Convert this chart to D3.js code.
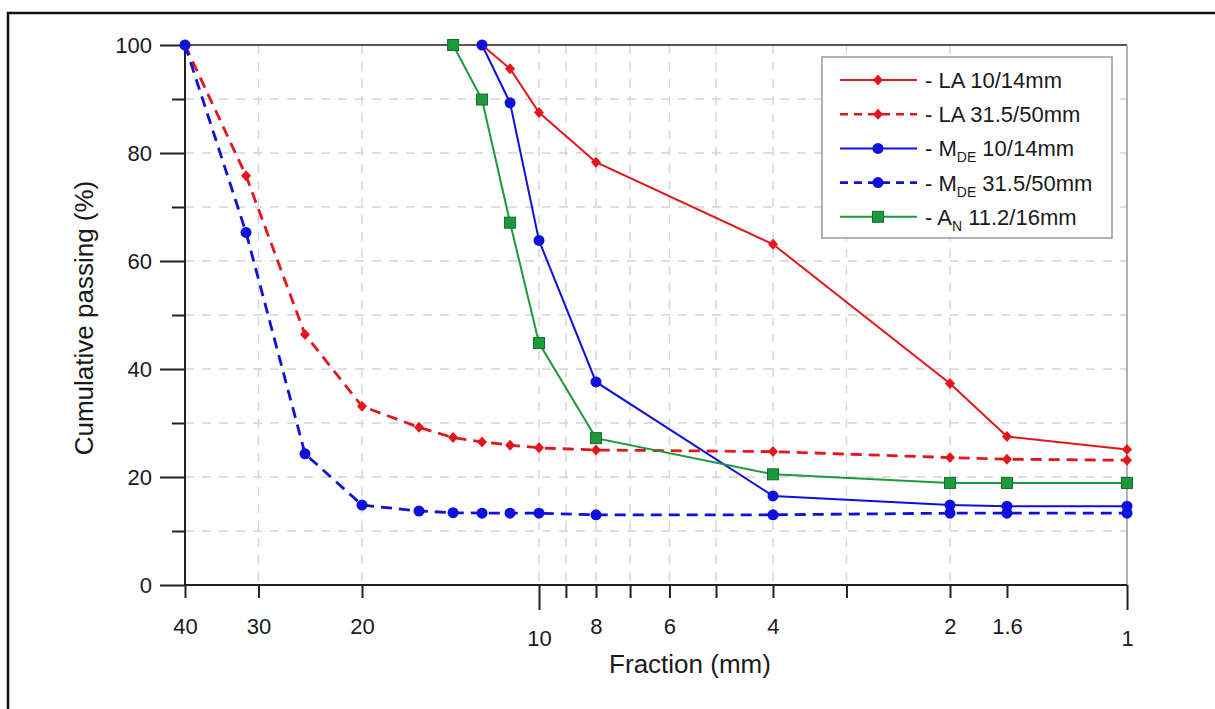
<!DOCTYPE html>
<html>
<head>
<meta charset="utf-8">
<script src="https://cdn.jsdelivr.net/npm/d3@7"></script>
<style>
  body { margin: 0; background: #fff; overflow: hidden; }
  text { font-family: "Liberation Sans", Arial, sans-serif; fill: #1a1a1a; }
</style>
</head>
<body>
<script>
var w = 1215;
var h = 709;

// sieve sizes (mm) and cumulative passing (%)
var coarseSizes = [40, 31.5, 25, 20, 16, 14, 12.5, 11.2, 10, 8, 4, 2, 1.6, 1];
var fineSizes = [12.5, 11.2, 10, 8, 4, 2, 1.6, 1];
var anSizes = [14, 12.5, 11.2, 10, 8, 4, 2, 1.6, 1];

var la1014 = [100, 95.6, 87.5, 78.3, 63.1, 37.3, 27.5, 25.1];
var la31550 = [100, 75.8, 46.4, 33.1, 29.2, 27.3, 26.5, 25.9, 25.4, 25.0, 24.7, 23.6, 23.3, 23.1];
var mde1014 = [100, 89.3, 63.8, 37.6, 16.5, 14.8, 14.6, 14.6];
var mde31550 = [100, 65.3, 24.3, 14.8, 13.7, 13.4, 13.3, 13.3, 13.3, 13.0, 13.0, 13.3, 13.3, 13.3];
var an11216 = [100, 89.9, 67.1, 44.8, 27.2, 20.5, 18.9, 18.9, 18.9];

var xTicksShort = [40, 30, 20, 9, 8, 7, 6, 5, 4, 3, 2, 1.6];
var xTicksLong = [10, 1];
var xLabels = [40, 30, 20, 10, 8, 6, 4, 2, 1.6, 1];
var xGrid = [30, 20, 10, 9, 8, 7, 6, 5, 4, 3, 2];
var yMajor = [0, 20, 40, 60, 80, 100];
var yMinor = [10, 30, 50, 70, 90];

var series = [
    { label: ["- LA", "", " 10/14mm"], sizes: fineSizes, values: la1014, color: "#e3161c", dash: null, shape: "diamond" },
    { label: ["- LA", "", " 31.5/50mm"], sizes: coarseSizes, values: la31550, color: "#e3161c", dash: "11,7", shape: "diamond" },
    { label: ["- M", "DE", " 10/14mm"], sizes: fineSizes, values: mde1014, color: "#1010dc", dash: null, shape: "circle" },
    { label: ["- M", "DE", " 31.5/50mm"], sizes: coarseSizes, values: mde31550, color: "#1010dc", dash: "11,7", shape: "circle" },
    { label: ["- A", "N", " 11.2/16mm"], sizes: anSizes, values: an11216, color: "#1c9a3c", dash: null, shape: "square" }
];

var svg = d3.select("body").append("svg").attr("width", w).attr("height", h)
    .style("display", "block");

// outer frame (only left and top edges fall inside the picture)
svg.append("path")
    .attr("d", "M8," + h + "V13H" + w)
    .attr("fill", "none").attr("stroke", "#111").attr("stroke-width", 2.5);

var x = d3.scaleLog().domain([40, 1]).range([185, 1127]);
var y = d3.scaleLinear().domain([0, 100]).range([585, 45]);

// grid
svg.append("g").selectAll("line")
    .data(xGrid).enter().append("line")
    .attr("x1", d => x(d)).attr("x2", d => x(d))
    .attr("y1", y(100)).attr("y2", y(0))
    .attr("stroke", "#d4d4d4").attr("stroke-width", 1.4).attr("stroke-dasharray", "9,8");

svg.append("g").selectAll("line")
    .data(yMinor.concat([20, 40, 60, 80])).enter().append("line")
    .attr("x1", x(40)).attr("x2", x(1))
    .attr("y1", d => y(d)).attr("y2", d => y(d))
    .attr("stroke", "#d4d4d4").attr("stroke-width", 1.4).attr("stroke-dasharray", "9,8");

// frame lines
svg.append("line").attr("x1", x(40)).attr("x2", x(1)).attr("y1", y(100)).attr("y2", y(100))
    .attr("stroke", "#555").attr("stroke-width", 2);
svg.append("line").attr("x1", x(1)).attr("x2", x(1)).attr("y1", y(100)).attr("y2", y(0))
    .attr("stroke", "#999").attr("stroke-width", 1.5);

// axes
var fmt = d => xLabels.indexOf(d) >= 0 ? String(d) : "";

svg.append("g").attr("transform", "translate(0," + y(0) + ")")
    .call(d3.axisBottom(x).tickValues(xTicksShort).tickSize(13).tickPadding(20).tickFormat(fmt))
    .call(g => g.select(".domain").remove());
svg.append("g").attr("transform", "translate(0," + y(0) + ")")
    .call(d3.axisBottom(x).tickValues(xTicksLong).tickSize(25).tickPadding(20).tickFormat(fmt))
    .call(g => g.select(".domain").remove());
svg.append("g").attr("transform", "translate(" + x(40) + ",0)")
    .call(d3.axisLeft(y).tickValues(yMajor).tickSize(25).tickPadding(8).tickFormat(d3.format("d")))
    .call(g => g.select(".domain").remove());
svg.append("g").attr("transform", "translate(" + x(40) + ",0)")
    .call(d3.axisLeft(y).tickValues(yMinor).tickSize(13).tickFormat(""))
    .call(g => g.select(".domain").remove());

svg.selectAll(".tick line").attr("stroke", "#222").attr("stroke-width", 2);
svg.selectAll(".tick text").attr("font-size", 22).attr("font-family", "Liberation Sans, Arial, sans-serif").attr("fill", "#1a1a1a");

svg.append("line").attr("x1", x(40)).attr("x2", x(1)).attr("y1", y(0)).attr("y2", y(0))
    .attr("stroke", "#222").attr("stroke-width", 2);
svg.append("line").attr("x1", x(40)).attr("x2", x(40)).attr("y1", y(100)).attr("y2", y(0))
    .attr("stroke", "#222").attr("stroke-width", 2);

// titles
svg.append("text").attr("x", 690).attr("y", 673)
    .attr("text-anchor", "middle").attr("font-size", 26)
    .text("Fraction (mm)");
svg.append("text").attr("transform", "translate(93,318) rotate(-90)")
    .attr("text-anchor", "middle").attr("font-size", 26)
    .text("Cumulative passing (%)");

// markers
function marker(g, shape, color, cx, cy) {
    if (shape === "circle") {
        g.append("circle").attr("cx", cx).attr("cy", cy).attr("r", 5.5).attr("fill", color);
    } else if (shape === "square") {
        g.append("rect").attr("x", cx - 5.5).attr("y", cy - 5.5).attr("width", 11).attr("height", 11)
            .attr("fill", color).attr("stroke", "#126e2a").attr("stroke-width", 1);
    } else {
        g.append("path").attr("transform", "translate(" + cx + "," + cy + ")")
            .attr("d", "M0,-5.5L5,0L0,5.5L-5,0Z").attr("fill", color);
    }
}

var line = d3.line().x(d => x(d[0])).y(d => y(d[1]));

series.forEach(function (s) {
    var pts = s.sizes.map((v, i) => [v, s.values[i]]);
    var g = svg.append("g");
    g.append("path")
        .attr("d", line(pts))
        .attr("fill", "none")
        .attr("stroke", s.color)
        .attr("stroke-width", s.dash ? 2.8 : 2)
        .attr("stroke-dasharray", s.dash);
    pts.forEach(function (p) {
        marker(g, s.shape, s.color, x(p[0]), y(p[1]));
    });
});

// legend
var legend = svg.append("g");
legend.append("rect").attr("x", 822).attr("y", 57).attr("width", 290).attr("height", 181)
    .attr("fill", "#fff").attr("stroke", "#999").attr("stroke-width", 1.5);

series.forEach(function (s, i) {
    var ly = 80 + i * 34.2;
    legend.append("line").attr("x1", 840).attr("x2", 917).attr("y1", ly).attr("y2", ly)
        .attr("stroke", s.color).attr("stroke-width", s.dash ? 2.6 : 2)
        .attr("stroke-dasharray", s.dash ? "8,6" : null);
    marker(legend, s.shape, s.color, 878, ly);
    var t = legend.append("text").attr("x", 925).attr("y", ly + 8).attr("font-size", 22);
    t.append("tspan").text(s.label[0]);
    if (s.label[1]) {
        t.append("tspan").attr("dy", 6).attr("font-size", 14).text(s.label[1]);
        t.append("tspan").attr("dy", -6).text(s.label[2]);
    } else {
        t.append("tspan").text(s.label[2]);
    }
});
</script>
</body>
</html>
